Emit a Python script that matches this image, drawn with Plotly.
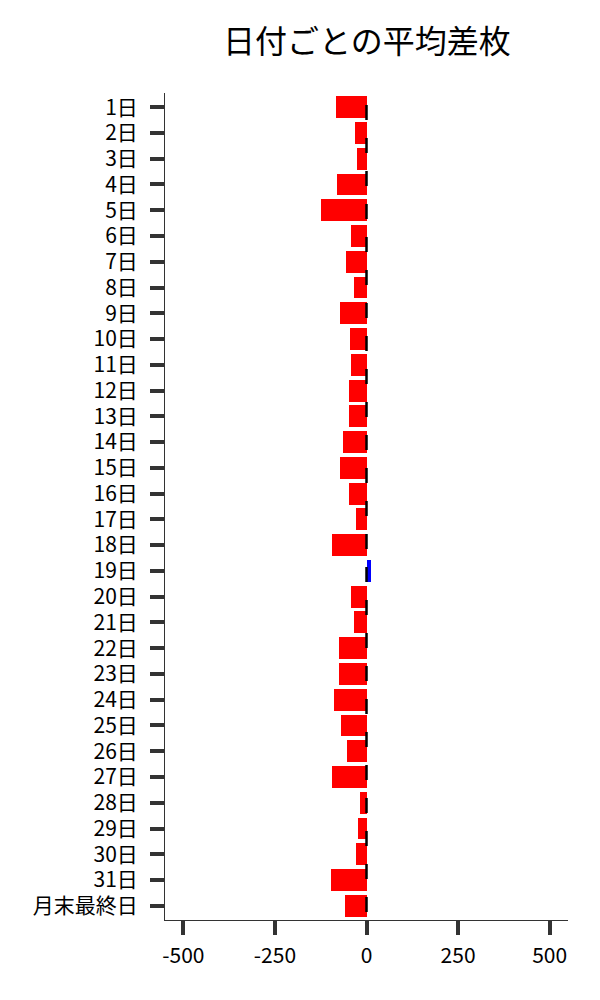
import plotly.graph_objects as go

# 日付ごとの平均差枚
days = [f"{d}日" for d in range(1, 32)] + ["月末最終日"]
avg_diff = [-84, -32, -26, -81, -125, -41, -57, -35, -73, -46,
            -41, -49, -49, -65, -73, -49, -30, -95, 11, -41,
            -35, -76, -76, -89, -70, -54, -95, -19, -22, -30,
            -97, -60]

x_ticks = [-500, -250, 0, 250, 500]
x_tick_text = ["-500", "-250", "0", "250", "500"]

colors = ["#0000ff" if v > 0 else "#ff0000" for v in avg_diff]

font = "Noto Sans CJK JP"

fig = go.Figure()
fig.add_trace(go.Bar(
    x=avg_diff, y=days, orientation="h",
    marker=dict(color=colors, line=dict(width=0)),
    width=0.85,
))

# zero reference line (dashed)
fig.add_shape(type="line", xref="x", yref="paper",
              x0=0, x1=0, y0=0.9855, y1=0,
              line=dict(color="black", width=2.5, dash="15px,18px"),
              layer="above")

fig.update_layout(
    width=600, height=1000,
    title=dict(text="日付ごとの平均差枚", x=0.598, xanchor="center",
               y=0.966, yanchor="middle",
               font=dict(family=font, size=32, color="black")),
    font=dict(family=font, size=21, color="black"),
    plot_bgcolor="white", paper_bgcolor="white",
    margin=dict(l=157, r=40, t=85, b=88),
    showlegend=False,
    bargap=0,
)
fig.update_xaxes(
    range=[-550, 550], tickvals=x_ticks, ticktext=x_tick_text,
    showgrid=False, zeroline=False,
    showline=True, linecolor="#333", linewidth=1,
    ticks="outside", ticklen=14, tickwidth=4, tickcolor="#333",
    ticklabelstandoff=3,
)
fig.update_yaxes(
    range=[31.55, -0.55], showgrid=False, zeroline=False,
    showline=True, linecolor="#333", linewidth=1,
    ticks="outside", ticklen=14, tickwidth=4, tickcolor="#333",
    ticklabelstandoff=8,
)

fig.write_html("out.html")
